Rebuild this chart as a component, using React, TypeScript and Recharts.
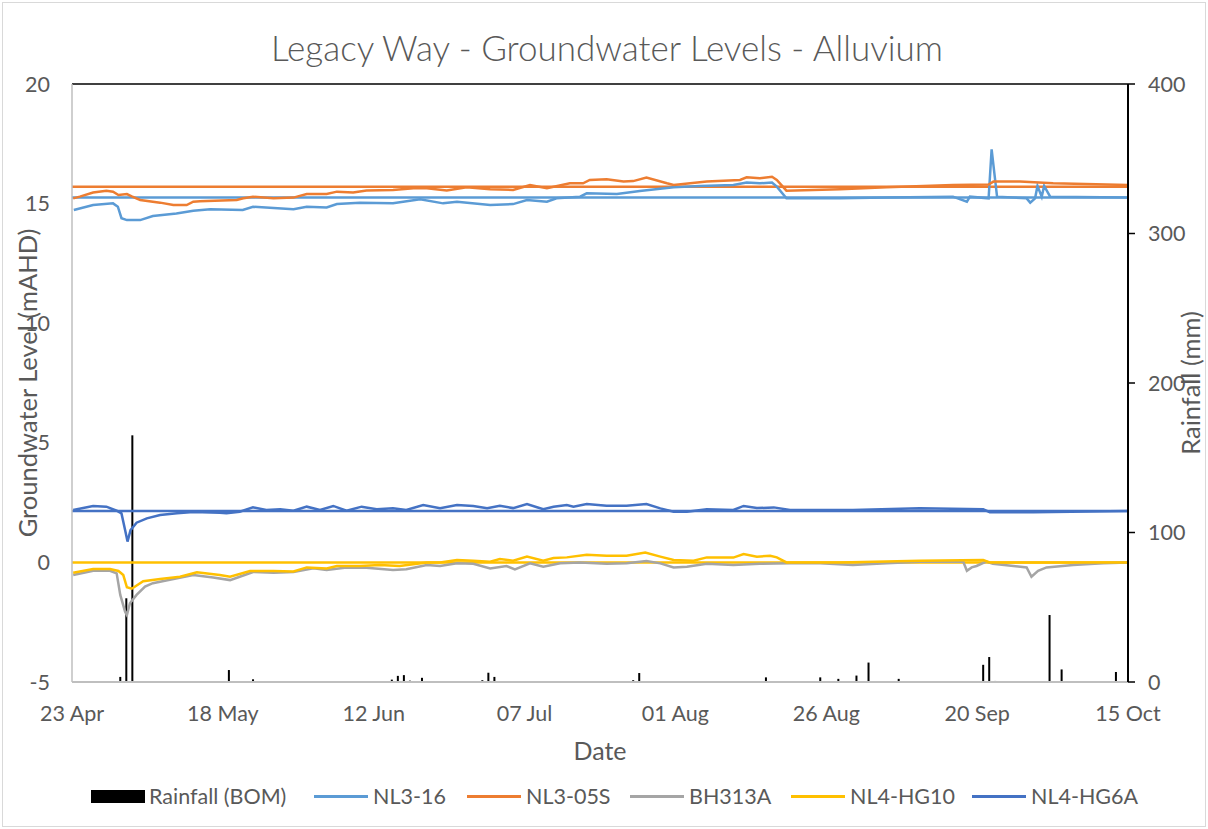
import React from 'react';
import { ComposedChart, Line, Bar, XAxis, YAxis, ReferenceLine } from 'recharts';

// ---- axis ticks ----
const dateTickDays = [0, 25, 50, 75, 100, 125, 150, 175];
const dateTickLabels = ['23 Apr', '18 May', '12 Jun', '07 Jul', '01 Aug', '26 Aug', '20 Sep', '15 Oct'];
const levelTicks = [-5, 0, 5, 10, 15, 20];
const rainTicks = [0, 100, 200, 300, 400];

// ---- rainfall (BOM), day offset from 23 Apr, mm ----
const rainDays = [8, 9, 10, 26, 30, 53, 54, 55, 56, 57, 58, 68, 69, 70, 82, 83, 92, 93, 94, 96, 115, 123, 124, 127, 130, 132, 137, 151, 152, 153, 155, 162, 164, 173];
const rainMm = [3.4, 56, 165, 8, 1.8, 1.6, 4.1, 4.6, 0.9, 0.5, 2.8, 1.2, 6.2, 3.4, 0.5, 0.5, 0.5, 1.2, 6, 0.5, 3.1, 0.5, 3.1, 2.1, 4.3, 13, 2.1, 11.5, 16.7, 0.7, 0.5, 44.8, 8.4, 6.7];

// ---- groundwater levels [day, mAHD] ----
const nl316: [number, number][] = [[0.3,14.73],[3.5,14.94],[6.8,15.01],[7.6,14.87],[8.2,14.39],[9.1,14.31],[11.3,14.31],[13.4,14.48],[17.3,14.59],[20.1,14.70],[22.9,14.76],[28.3,14.73],[30,14.87],[36.7,14.76],[38.9,14.87],[42.2,14.84],[43.9,14.98],[47.7,15.04],[53.2,15.01],[57.7,15.18],[61.5,15.01],[63.8,15.08],[69.3,14.94],[73.1,14.98],[75.4,15.15],[78.7,15.08],[80.3,15.22],[84.2,15.29],[85.3,15.43],[90.3,15.40],[94.1,15.53],[99.7,15.68],[104.1,15.74],[109.6,15.78],[111.8,15.88],[114,15.85],[116,15.88],[116.8,15.71],[118.4,15.22],[127.3,15.22],[135,15.25],[146,15.29],[148.3,15.08],[148.8,15.29],[151.9,15.22],[152.4,17.27],[153.3,15.29],[158.2,15.22],[158.8,15.04],[159.6,15.22],[160,15.74],[160.7,15.29],[161.1,15.74],[162.1,15.29],[175,15.26]];
const nl305s: [number, number][] = [[0.2,15.22],[1.3,15.29],[3.5,15.46],[5.7,15.54],[6.8,15.5],[7.7,15.36],[9.1,15.40],[9.9,15.3],[11.3,15.15],[14.6,15.04],[16.8,14.94],[19,14.94],[20.1,15.08],[21.2,15.1],[27.3,15.15],[28.4,15.22],[30,15.29],[33.4,15.22],[36.7,15.25],[38.9,15.40],[42.2,15.40],[43.9,15.50],[46.6,15.46],[48.8,15.55],[53.2,15.57],[56.6,15.64],[58.8,15.64],[62.1,15.55],[65.4,15.68],[69.3,15.60],[73.1,15.57],[75.9,15.78],[78.7,15.64],[82.5,15.85],[84.7,15.85],[85.8,15.99],[88.6,16.02],[91.4,15.92],[93,15.94],[95.2,16.09],[98.6,15.85],[99.7,15.78],[105.2,15.92],[110.7,15.99],[111.8,16.1],[114,16.06],[116,16.12],[116.8,15.99],[118.4,15.54],[127.3,15.60],[135,15.68],[146,15.78],[151.9,15.8],[152.7,15.92],[157.1,15.92],[162.6,15.85],[175,15.78]];
const bh313a: [number, number][] = [[0.2,-0.53],[3.5,-0.35],[6.3,-0.35],[7.4,-0.46],[8,-1.36],[8.8,-2.06],[9.1,-2.2],[9.6,-1.71],[10.7,-1.36],[12.1,-1.01],[13.4,-0.87],[15.6,-0.76],[20.1,-0.53],[23.4,-0.63],[26.2,-0.74],[27.8,-0.6],[30,-0.4],[33.4,-0.43],[36.7,-0.4],[40,-0.25],[42.2,-0.32],[45.5,-0.21],[48.8,-0.22],[53.2,-0.32],[55.4,-0.29],[58.8,-0.11],[61,-0.15],[63.8,-0.04],[66.5,-0.06],[69.3,-0.25],[72,-0.15],[73.4,-0.29],[75.9,-0.04],[78.1,-0.18],[80.9,-0.04],[84.2,0],[88.6,-0.06],[91.9,-0.04],[95.2,0.06],[97.5,-0.04],[99.7,-0.21],[101.9,-0.18],[105.2,-0.06],[109.6,-0.11],[114,-0.06],[119,-0.04],[124,-0.04],[129.4,-0.11],[135,-0.04],[140.5,0.03],[147.7,0.03],[148.3,-0.35],[149.1,-0.21],[149.9,-0.15],[151.5,0.03],[152.6,-0.06],[158.2,-0.21],[159,-0.6],[160.1,-0.35],[161.5,-0.21],[165.9,-0.11],[170.9,-0.04],[175,0]];
const nl4hg10: [number, number][] = [[0.2,-0.43],[3.5,-0.28],[6.3,-0.28],[7.7,-0.36],[8.5,-0.53],[9.1,-1.04],[9.9,-1.1],[11.8,-0.79],[14.6,-0.69],[17.9,-0.6],[20.7,-0.41],[24.5,-0.53],[26.2,-0.6],[29.5,-0.36],[33.4,-0.36],[36.7,-0.38],[38.9,-0.21],[42.2,-0.25],[43.9,-0.15],[47.7,-0.15],[51,-0.11],[54.3,-0.15],[58.8,0],[61,0],[63.8,0.1],[66.5,0.07],[69.3,0.03],[70.9,0.14],[73.1,0.07],[75.4,0.24],[78.1,0.07],[79.8,0.18],[82,0.21],[85.3,0.32],[88.6,0.28],[91.9,0.28],[95,0.41],[97.5,0.24],[99.7,0.1],[103,0.07],[105.2,0.21],[109.6,0.2],[111.3,0.35],[113.5,0.24],[115.7,0.28],[116.8,0.21],[118.4,0],[127.3,0],[140.5,0.07],[151,0.1],[152.1,0],[175,0]];
const nl4hg6a: [number, number][] = [[0.2,2.19],[3.5,2.36],[5.7,2.33],[7.4,2.16],[8.2,2.05],[8.8,1.35],[9.2,0.87],[9.7,1.35],[10.7,1.66],[12.4,1.84],[14.6,1.98],[17.4,2.05],[20.1,2.11],[24.5,2.08],[25.6,2.05],[27.8,2.12],[30,2.3],[32.2,2.19],[34.5,2.22],[36.7,2.16],[38.9,2.33],[41.1,2.19],[43.3,2.36],[45.5,2.16],[48,2.33],[50.5,2.22],[53.2,2.26],[55.4,2.19],[58.2,2.40],[61,2.26],[63.8,2.40],[66.5,2.36],[68.8,2.26],[70.9,2.37],[73.1,2.27],[75.4,2.44],[78.1,2.22],[79.8,2.33],[82,2.40],[83.1,2.33],[85.3,2.44],[88.6,2.37],[91.9,2.37],[95.2,2.44],[97.5,2.26],[99.7,2.12],[101.9,2.12],[105.2,2.22],[109.6,2.19],[111.3,2.36],[113.5,2.27],[116.3,2.30],[119,2.19],[129.4,2.19],[140.5,2.26],[151,2.22],[152.1,2.1],[159.3,2.1],[175,2.15]];

// ---- horizontal reference levels (mAHD) ----
const levelNL316 = 15.25;
const levelNL305S = 15.7;
const levelHG6A = 2.15;
const levelHG10 = 0;

const COLORS = {
  nl316: '#5B9BD5',
  nl305s: '#ED7D31',
  bh313a: '#A5A5A5',
  nl4hg10: '#FFC000',
  nl4hg6a: '#4472C4',
};

const seriesList: [string, [number, number][]][] = [
  ['nl316', nl316],
  ['nl305s', nl305s],
  ['bh313a', bh313a],
  ['nl4hg10', nl4hg10],
  ['nl4hg6a', nl4hg6a],
];

function buildTable() {
  const map = new Map<number, any>();
  const get = (d: number) => {
    if (!map.has(d)) map.set(d, { day: d });
    return map.get(d);
  };
  rainDays.forEach((d, i) => { get(d).rain = rainMm[i]; });
  seriesList.forEach(([k, arr]) => arr.forEach(([d, v]) => { get(d)[k] = v; }));
  return Array.from(map.values()).sort((a, b) => a.day - b.day);
}

const table = buildTable();

const FONT = "Lato, 'Open Sans', sans-serif";
const TXT = '#595959';

const RainShape = (props: any) => {
  const { x, y, width, height } = props;
  if (height == null || !isFinite(height) || height <= 0) return null;
  const cx = x + width / 2;
  return <rect x={cx - 1} y={y} width={2} height={height} fill="#000" />;
};

const legendItems = [
  { label: 'Rainfall (BOM)', color: '#000', bar: true, left: 91 },
  { label: 'NL3-16', color: COLORS.nl316, left: 314 },
  { label: 'NL3-05S', color: COLORS.nl305s, left: 467 },
  { label: 'BH313A', color: COLORS.bh313a, left: 630 },
  { label: 'NL4-HG10', color: COLORS.nl4hg10, left: 791 },
  { label: 'NL4-HG6A', color: COLORS.nl4hg6a, left: 972 },
];

export default function App() {
  return (
    <div style={{ position: 'absolute', left: 0, top: 0, width: 1208, height: 829, background: '#fff', fontFamily: FONT }}>
      <div style={{ position: 'absolute', left: 2, top: 2, width: 1202, height: 823, border: '1px solid #D9D9D9' }} />
      <ComposedChart
        width={1208}
        height={829}
        data={table}
        margin={{ top: 84, right: 30, bottom: 107, left: 32 }}
        style={{ position: 'absolute', left: 0, top: 0 }}
      >
        <XAxis
          dataKey="day"
          type="number"
          domain={[0, 175]}
          ticks={dateTickDays}
          tickFormatter={(v: number) => dateTickLabels[dateTickDays.indexOf(v)] ?? ''}
          interval={0}
          height={40}
          tickLine={false}
          tickSize={0}
          tickMargin={24}
          axisLine={{ stroke: '#BFBFBF', strokeWidth: 2 }}
          tick={{ fill: TXT, fontSize: 21.5, fontFamily: FONT }}
          allowDataOverflow
        />
        <YAxis
          yAxisId="left"
          domain={[-5, 20]}
          ticks={levelTicks}
          interval={0}
          width={40}
          tickLine={false}
          tickSize={0}
          tickMargin={22}
          axisLine={{ stroke: '#BFBFBF', strokeWidth: 1.5 }}
          tick={{ fill: TXT, fontSize: 21.5, fontFamily: FONT }}
          allowDataOverflow
        />
        <YAxis
          yAxisId="right"
          orientation="right"
          domain={[0, 400]}
          ticks={rainTicks}
          interval={0}
          width={50}
          tickSize={7}
          tickMargin={13}
          tickLine={{ stroke: '#000', strokeWidth: 1.5 }}
          axisLine={{ stroke: '#000', strokeWidth: 2 }}
          tick={{ fill: TXT, fontSize: 21.5, fontFamily: FONT, textAnchor: 'start' }}
          allowDataOverflow
        />
        <ReferenceLine yAxisId="left" y={20} stroke="#000" strokeWidth={1.5} />
        <Bar yAxisId="right" dataKey="rain" fill="#000" shape={RainShape} isAnimationActive={false} />
        <ReferenceLine yAxisId="left" y={levelNL305S} stroke={COLORS.nl305s} strokeWidth={2.5} />
        <ReferenceLine yAxisId="left" y={levelNL316} stroke={COLORS.nl316} strokeWidth={2.5} />
        <ReferenceLine yAxisId="left" y={levelHG6A} stroke={COLORS.nl4hg6a} strokeWidth={2.5} />
        <ReferenceLine yAxisId="left" y={levelHG10} stroke={COLORS.nl4hg10} strokeWidth={2.5} />
        <Line yAxisId="left" type="linear" dataKey="nl316" stroke={COLORS.nl316} strokeWidth={2.5} dot={false} connectNulls isAnimationActive={false} />
        <Line yAxisId="left" type="linear" dataKey="nl305s" stroke={COLORS.nl305s} strokeWidth={2.5} dot={false} connectNulls isAnimationActive={false} />
        <Line yAxisId="left" type="linear" dataKey="bh313a" stroke={COLORS.bh313a} strokeWidth={2.5} dot={false} connectNulls isAnimationActive={false} />
        <Line yAxisId="left" type="linear" dataKey="nl4hg10" stroke={COLORS.nl4hg10} strokeWidth={2.5} dot={false} connectNulls isAnimationActive={false} />
        <Line yAxisId="left" type="linear" dataKey="nl4hg6a" stroke={COLORS.nl4hg6a} strokeWidth={2.5} dot={false} connectNulls isAnimationActive={false} />
      </ComposedChart>

      <div style={{ position: 'absolute', left: 607, top: 47, transform: 'translate(-50%, -50%)', whiteSpace: 'nowrap', fontSize: 35, color: TXT, fontWeight: 300 }}>
        Legacy Way - Groundwater Levels - Alluvium
      </div>
      <div style={{ position: 'absolute', left: 27, top: 383, transform: 'translate(-50%, -50%) rotate(-90deg)', whiteSpace: 'nowrap', fontSize: 25.5, color: TXT }}>
        Groundwater Level (mAHD)
      </div>
      <div style={{ position: 'absolute', left: 1190, top: 383, transform: 'translate(-50%, -50%) rotate(-90deg)', whiteSpace: 'nowrap', fontSize: 25.5, color: TXT }}>
        Rainfall (mm)
      </div>
      <div style={{ position: 'absolute', left: 600, top: 750, transform: 'translate(-50%, -50%)', whiteSpace: 'nowrap', fontSize: 25, color: TXT }}>
        Date
      </div>
      {legendItems.map((it) => (
        <div key={it.label} style={{ position: 'absolute', left: it.left, top: 796, transform: 'translateY(-50%)', display: 'flex', alignItems: 'center', whiteSpace: 'nowrap', fontSize: 21.5, color: TXT }}>
          {it.bar ? (
            <span style={{ display: 'inline-block', width: 54, height: 13, background: it.color, marginRight: 4 }} />
          ) : (
            <span style={{ display: 'inline-block', width: 54, height: 3, background: it.color, marginRight: 5 }} />
          )}
          <span>{it.label}</span>
        </div>
      ))}
    </div>
  );
}
